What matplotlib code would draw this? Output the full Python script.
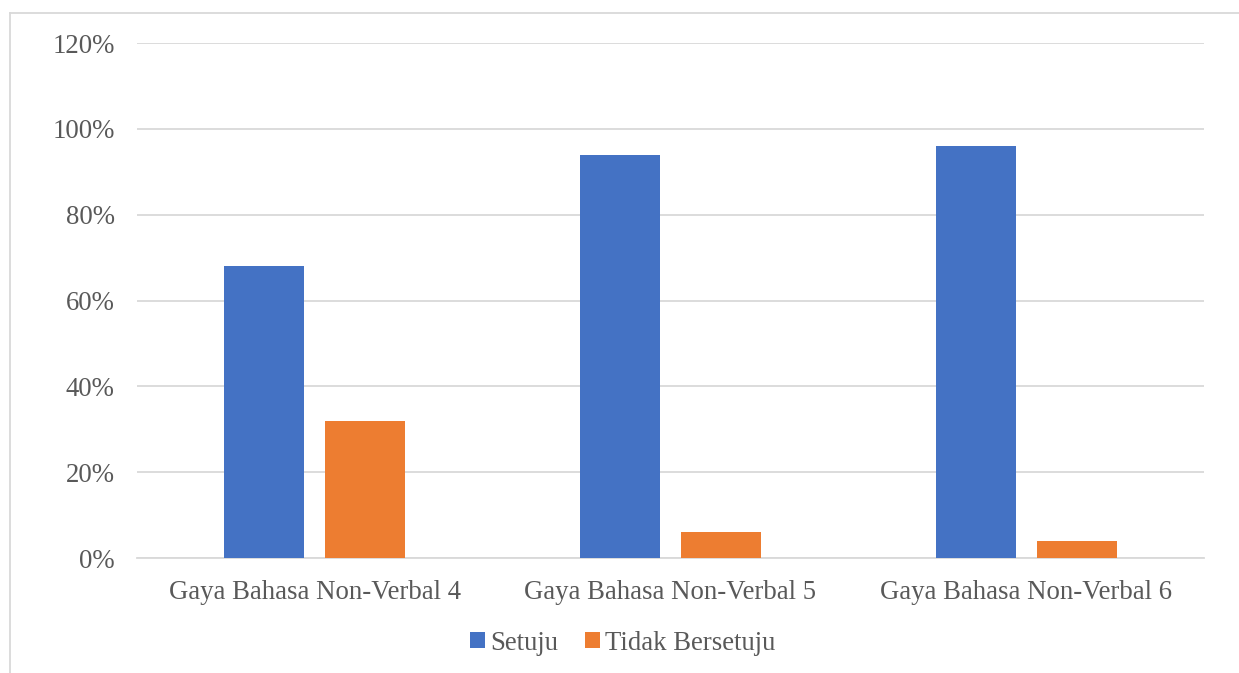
import matplotlib.pyplot as plt
from matplotlib.lines import Line2D
import numpy as np

categories = ['Gaya Bahasa Non-Verbal 4', 'Gaya Bahasa Non-Verbal 5', 'Gaya Bahasa Non-Verbal 6']
setuju = [68, 94, 96]
tidak_bersetuju = [32, 6, 4]
series_names = ['Setuju', 'Tidak Bersetuju']
yticks = [0, 20, 40, 60, 80, 100, 120]

plt.rcParams['font.family'] = ['Liberation Serif', 'DejaVu Serif']
txt = '#595959'
grid = '#d9d9d9'

fig = plt.figure(figsize=(12.39, 6.73), dpi=100)
W, H = 1239, 673
ax = fig.add_axes([137 / W, 1 - 558 / H, (1204 - 137) / W, (558 - 43) / H])

x = np.arange(len(categories))
w = 0.225
off = 0.142
ax.bar(x - off, setuju, w, color='#4472C4', label=series_names[0], zorder=3)
ax.bar(x + off, tidak_bersetuju, w, color='#ED7D31', label=series_names[1], zorder=3)

ax.set_xlim(-0.5, len(categories) - 0.5)
ax.set_ylim(0, 120)
ax.set_yticks(yticks)
ax.set_yticklabels(['%d%%' % v for v in yticks])
ax.set_xticks(x)
ax.set_xticklabels(categories)
ax.tick_params(axis='both', length=0, labelsize=19.3, colors=txt)
ax.tick_params(axis='y', pad=16)
ax.tick_params(axis='x', pad=16)
ax.yaxis.grid(True, color=grid, lw=1.3, zorder=0)
for s in ['top', 'right', 'left']:
    ax.spines[s].set_visible(False)
ax.spines['bottom'].set_color(grid)
ax.spines['bottom'].set_linewidth(1.3)

leg = fig.legend(loc='center', bbox_to_anchor=(623 / W, 1 - 643 / H), ncol=2, frameon=False,
                 fontsize=19.3, handlelength=0.55, handleheight=0.55, handletextpad=0.2,
                 columnspacing=1.0)
for t in leg.get_texts():
    t.set_color(txt)

# outer chart border (top and left edges visible)
fig.add_artist(Line2D([10 / W, 10 / W], [0, 1 - 13 / H], color=grid, lw=1.3))
fig.add_artist(Line2D([10 / W, 1], [1 - 13 / H, 1 - 13 / H], color=grid, lw=1.3))

fig.savefig('out.png', dpi=100)
